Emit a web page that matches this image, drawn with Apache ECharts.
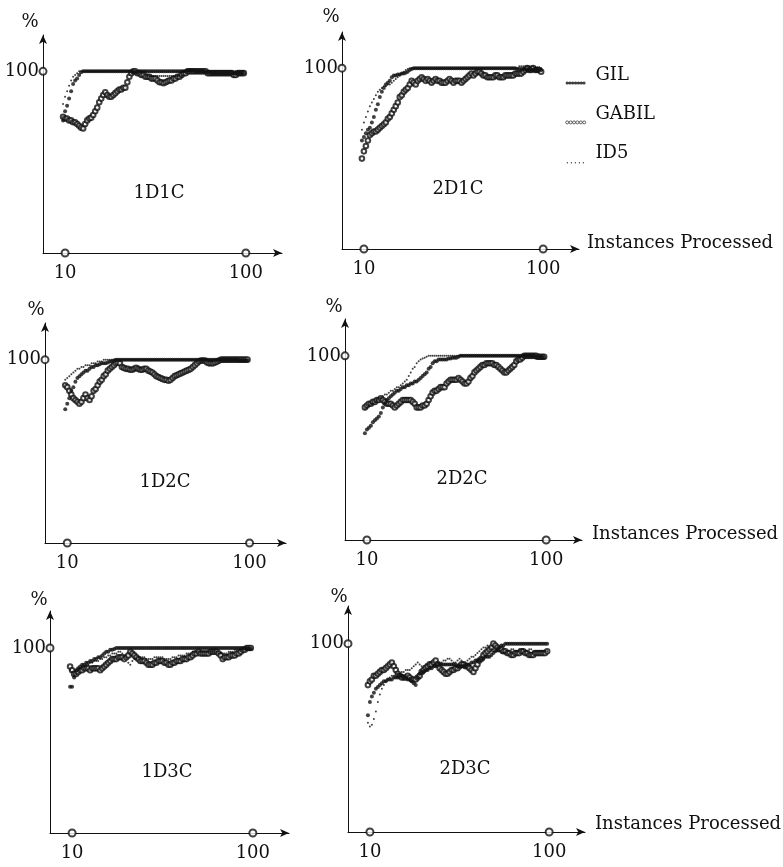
<!DOCTYPE html>
<html>
<head>
<meta charset="utf-8">
<script src="https://cdn.jsdelivr.net/npm/echarts@6/dist/echarts.min.js"></script>
<style>
  html, body { margin: 0; padding: 0; background: #fff; }
  #canvas { width: 783px; height: 867px; }
</style>
</head>
<body>
<div id="canvas"></div>
<script>
// instances processed (x values), one reading per instance
const instances = [];
for (let n = 9; n <= 99; n++) instances.push(n);

const seriesNames = ['GIL', 'GABIL', 'ID5'];
const panelNames = ['1D1C', '2D1C', '1D2C', '2D2C', '1D3C', '2D3C'];
const xAxisTitle = 'Instances Processed';
const xTickValues = [10, 100];
const yTickValues = [100];
const xRange = [-1, 118];
const yRange = [0, 120];

// ---- 1D1C ----
const gil_1D1C = [73, 78, 81, 85, 89, 93, 95, 96, 98, 99.5,
  100, 100, 100, 100, 100, 100, 100, 100, 100, 100,
  100, 100, 100, 100, 100, 100, 100, 100, 100, 100,
  100, 100, 100, 100, 100, 99.5, 99.5, 99.5, 100, 100,
  100, 100, 100, 100, 100, 100, 100, 100, 100, 100,
  100, 100, 100, 100, 100, 100, 100, 100, 100, 100,
  100, 100, 100.5, 100.5, 100.5, 100.5, 100, 100, 100, 100,
  100, 99.5, 99.5, 99.5, 99, 99, 99, 99, 99, 99,
  99, 99, 99, 99, 99, 99, 99, 99, 99, 99,
  99];
const gabil_1D1C = [75, 74, 74, 73, 73, 72, 72, 71, 70, 69,
  68.5, 71, 73, 74, 74.5, 76, 78, 80, 83, 85,
  87, 88.5, 87, 86, 86, 87, 88, 89, 90, 90,
  91, 91, 94, 97, 99, 100, 100, 99, 99, 98,
  98, 97, 97, 97, 96, 96, 96, 95, 94, 94,
  93.5, 94, 94.5, 95, 95, 96, 96, 97, 97, 98,
  99, 99, 100, 100, 100, 100, 100, 100, 100, 100,
  100, 100, 99, 99, 99, 99, 99, 99, 99, 99,
  99, 99, 99, 99, 99, 98, 98, 99, 99, 99,
  99];
const id5_1D1C = [82, 86, 89, 92, 95, 97, 98, 99, 100, 100,
  100, 100, 100, 100, 100, 100, 100, 100, 100, 100,
  100, 100, 100, 100, 100, 100, 100, 100, 100, 100,
  100, 100, 100, 100, 100, 100, 100, 100, 100, 100,
  100, 100, 97.5, 97.5, 97.5, 97.5, 97.5, 97.5, 97.5, 97.5,
  97.5, 97.5, 97.5, 97.5, 97.5, 97.5, 97.5, 97.5, 97.5, 97.5,
  100, 100, 100, 100, 100, 100, 100, 100, 100, 100,
  100, 100, 100, 100, 100, 100, 100, 100, 100, 100,
  100, 100, 100, 100, 100, 100, 100, 100, 100, 100,
  100];

// ---- 2D1C ----
const gil_2D1C = [60, 62, 64, 66, 67, 70, 73, 77, 80, 84,
  87, 89, 91, 92, 93, 95, 96, 96, 96.5, 96.5,
  97, 97, 97.5, 98, 99, 99.5, 100, 100, 100, 100,
  100, 100, 100, 100, 100, 100, 100, 100, 100, 100,
  100, 100, 100, 100, 100, 100, 100, 100, 100, 100,
  100, 100, 100, 100, 100, 100, 100, 100, 100, 100,
  100, 100, 100, 100, 100, 100, 100, 100, 100, 100,
  100, 100, 100, 100, 100, 100, 100, 100, 99.5, 99.5,
  99.5, 99.5, 99.5, 99, 99, 99, 99, 99, 99, 99,
  99];
const gabil_2D1C = [50, 54, 57, 60, 63, 64, 65, 65, 66, 67,
  68, 69, 70, 72, 73, 75, 77, 79, 81, 84,
  85, 87, 88, 89, 91, 93, 92, 91, 93, 94,
  95, 94, 93, 94, 93, 92, 93, 94, 93, 93,
  92, 92, 92, 93, 94, 93, 92, 93, 93, 93,
  92, 93, 94, 95, 96, 97, 96, 97, 98, 98,
  97, 96, 96, 95, 95, 95, 95, 96, 96, 95,
  95, 95, 96, 96, 96, 96, 96, 97, 97, 97,
  97, 98, 99, 100, 99, 99, 100, 99, 99, 99,
  98];
const id5_2D1C = [66, 70, 73, 76, 79, 81, 83, 85, 87, 88,
  89, 90, 90, 91, 91, 92, 93, 94, 95, 96,
  97, 98, 99, 99.5, 100, 100, 100, 100, 100, 100,
  100, 100, 100, 100, 100, 100, 100, 100, 100, 100,
  100, 100, 100, 100, 100, 100, 100, 100, 100, 100,
  100, 100, 100, 100, 100, 100, 100, 100, 100, 100,
  100, 100, 100, 100, 100, 100, 100, 100, 100, 100,
  100, 100, 100, 100, 100, 100, 100, 100, 100, 101,
  101, 101, 101, 101, 101, 101, 101, 100.5, 100.5, 100.5,
  100];

// ---- 1D2C ----
const gil_1D2C = [73, 76, 79, 83, 85, 88, 90, 91, 92, 93,
  94, 94, 95, 96, 96, 97, 97, 97.5, 98, 98,
  98, 98.5, 99, 99, 99.5, 100, 100, 100, 100, 100,
  100, 100, 100, 100, 100, 100, 100, 100, 100, 100,
  100, 100, 100, 100, 100, 100, 100, 100, 100, 100,
  100, 100, 100, 100, 100, 100, 100, 100, 100, 100,
  100, 100, 100, 100, 100, 100, 100, 100, 100, 100,
  100, 100, 100, 100, 100, 100, 100, 100, 100, 100,
  100, 100, 100, 100, 100, 100, 99.5, 99.5, 99.5, 99.5,
  99.5];
const gabil_1D2C = [86, 85, 83, 81, 79, 78, 77, 76, 77, 79,
  81, 79, 78, 80, 83, 84, 86, 88, 89, 91,
  92, 94, 95, 96, 97, 98, 98.5, 98, 96, 95.5,
  95, 95, 94.5, 94.5, 95, 95.5, 95, 94.5, 94.5, 95,
  95, 94, 93.5, 93, 92, 91, 90.5, 90, 89.5, 89,
  89, 88.5, 89, 90, 91, 91.5, 92, 92.5, 93, 93.5,
  94, 94.5, 95, 96, 97, 98, 99, 99.5, 99.5, 99.5,
  98.5, 98, 98, 98, 98.5, 99, 99.5, 100, 100, 100,
  100, 100, 100, 100, 100, 100, 100, 100, 100, 100,
  100];
const id5_1D2C = [89, 90, 91, 92, 93, 94, 95, 95, 96, 96,
  97, 97, 97, 98, 98, 98, 99, 99, 99, 100,
  100, 100, 100, 100, 100, 100, 100, 100, 100, 100,
  100, 100, 100, 100, 100, 100, 100, 100, 100, 100,
  100, 100, 100, 100, 100, 100, 100, 100, 100, 100,
  100, 100, 100, 100, 100, 100, 100, 100, 100, 100,
  100, 100, 100, 100, 100, 100, 100, 100, 100, 100,
  100, 100, 100, 100, 100, 100, 100, 100, 100, 100,
  100, 100, 100, 100, 100, 100, 100, 100, 100, 100,
  100];

// ---- 2D2C ----
const gil_2D2C = [58, 60, 61, 62, 64, 65, 66, 67, 69, 72,
  74, 76, 77, 78, 79, 80, 81, 81, 82, 83,
  83, 84, 84, 85, 85, 86, 86, 87, 88, 89,
  90, 91, 93, 94, 96, 97, 97, 98, 98, 98,
  98, 98, 98.5, 98.5, 99, 99, 99, 99.5, 100, 100,
  100, 100, 100, 100, 100, 100, 100, 100, 100, 100,
  100, 100, 100, 100, 100, 100, 100, 100, 100, 100,
  100, 100, 100, 100, 100, 100, 100, 100, 100, 100,
  100, 100, 100, 100, 100, 100, 99, 99, 99, 99,
  99];
const gabil_2D2C = [72, 73, 74, 74, 75, 75, 76, 76, 77, 76,
  75, 74, 74, 74, 73, 72, 73, 74, 75, 76,
  76, 76, 76, 76, 75, 74, 72, 72, 72, 73,
  73, 74, 76, 78, 80, 81, 81, 82, 83, 83,
  83, 85, 86, 87, 87, 87, 87, 88, 87, 86,
  85, 85, 86, 88, 89, 91, 92, 93, 94, 95,
  95, 96, 96, 96, 96, 95, 95, 94, 93, 92,
  91, 91, 92, 93, 94, 95, 97, 98, 98, 99,
  100, 100, 100, 100, 100, 100, 100, 99.5, 99.5, 99.5,
  99.5];
const id5_2D2C = [71, 72, 73, 74, 74, 75, 76, 77, 77, 78,
  79, 79, 80, 81, 81, 82, 83, 83, 84, 85,
  86, 87, 89, 91, 93, 94, 96, 97, 98, 98.5,
  99, 99.5, 100, 100, 100, 100, 100, 100, 100, 100,
  100, 100, 100, 100, 100, 100, 100, 100, 100, 100,
  100, 100, 100, 100, 100, 100, 100, 100, 100, 100,
  100, 100, 100, 100, 100, 100, 100, 100, 100, 100,
  100, 100, 100, 100, 100, 100, 100, 100, 100, 100,
  100, 100, 100, 100, 100, 100, 100, 100, 100, 100,
  100];

// ---- 1D3C ----
const gil_1D3C = [79, 79, 84, 88, 89, 90, 91, 91, 92, 92,
  93, 93, 94, 94, 95, 95, 96, 97, 98, 98,
  99, 99, 99.5, 100, 100, 100, 100, 100, 100, 100,
  100, 100, 100, 100, 100, 100, 100, 100, 100, 100,
  100, 100, 100, 100, 100, 100, 100, 100, 100, 100,
  100, 100, 100, 100, 100, 100, 100, 100, 100, 100,
  100, 100, 100, 100, 100, 100, 100, 100, 100, 100,
  100, 100, 100, 100, 100, 100, 100, 100, 100, 100,
  100, 100, 100, 100, 100, 100, 100, 100, 99.5, 99.5,
  99.5];
const gabil_1D3C = [90, 88, 86, 86, 87, 88, 88, 89, 89, 89,
  88, 89, 89, 89, 89, 88, 89, 90, 91, 92,
  93, 94, 94, 94, 95, 95, 95, 94, 95, 96,
  98, 97, 96, 95, 94, 93, 93, 93, 92, 91,
  91, 91, 92, 92, 93, 93, 93, 92, 92, 91,
  91, 92, 92, 93, 93, 93, 94, 94, 94, 95,
  95, 96, 97, 97, 98, 97, 97, 97, 97, 97,
  98, 98, 98, 98, 97, 96, 94, 95, 95, 95,
  96, 96, 96, 97, 97, 98, 99, 99, 100, 100,
  100];
const id5_1D3C = [88, 87, 85, 86, 88, 89, 90, 90, 91, 91,
  92, 92, 93, 93, 93, 94, 94, 95, 95, 96,
  96, 97, 97, 97, 98, 98, 97, 96, 95, 92,
  91, 93, 94, 94, 95, 95, 95, 95, 94, 94,
  94, 94, 95, 95, 95, 95, 95, 94, 94, 94,
  94, 95, 95, 95, 96, 96, 96, 96, 97, 97,
  97, 98, 98, 98, 98, 98, 98, 98, 98, 98,
  98, 98, 98, 98, 97, 97, 97, 97, 97, 98,
  98, 98, 99, 99, 99, 99, 99, 100, 100, 100,
  100];

// ---- 2D3C ----
const gil_2D3C = [62, 69, 72, 74, 76, 77, 78, 79, 80, 80,
  81, 81, 81, 82, 82, 82, 83, 83, 82, 82,
  81, 81, 80, 79, 78, 82, 84, 85, 85, 86,
  86, 87, 87, 88, 88, 89, 89, 89, 89, 89,
  89, 89, 89, 89, 89, 88, 88, 88, 88, 88,
  89, 89, 90, 90, 91, 91, 91, 92, 92, 93,
  93, 93, 94, 95, 96, 97, 98, 99, 99, 100,
  100, 100, 100, 100, 100, 100, 100, 100, 100, 100,
  100, 100, 100, 100, 100, 100, 100, 100, 100, 100,
  100];
const gabil_2D3C = [78, 80, 81, 83, 83, 84, 85, 86, 86, 87,
  88, 89, 90, 88, 86, 84, 83, 82, 82, 82,
  83, 82, 81, 81, 81, 82, 83, 85, 86, 87,
  88, 89, 89, 90, 91, 89, 87, 86, 85, 84,
  84, 85, 86, 86, 87, 87, 88, 89, 89, 88,
  88, 87, 86, 85, 87, 89, 91, 92, 94, 95,
  96, 97, 98, 100, 99, 98, 97, 97, 96, 96,
  95, 95, 94, 94, 95, 95, 95, 96, 96, 95,
  95, 94, 94, 94, 95, 95, 95, 95, 95, 95,
  96];
const id5_2D3C = [58, 56, 57, 60, 64, 69, 73, 76, 78, 80,
  81, 82, 83, 83, 84, 84, 84, 85, 85, 86,
  86, 86, 87, 88, 89, 90, 89, 88, 88, 89,
  89, 90, 90, 89, 89, 90, 90, 90, 91, 91,
  92, 92, 91, 90, 90, 91, 92, 91, 90, 90,
  91, 92, 93, 93, 94, 95, 96, 97, 98, 98,
  99, 98, 97, 96, 96, 96, 96, 95, 95, 95,
  96, 96, 97, 97, 96, 96, 97, 97, 97, 96,
  96, 97, 97, 96, 96, 96, 96, 96, 96, 96,
  96];

const panelData = [
  [gil_1D1C, gabil_1D1C, id5_1D1C],
  [gil_2D1C, gabil_2D1C, id5_2D1C],
  [gil_1D2C, gabil_1D2C, id5_1D2C],
  [gil_2D2C, gabil_2D2C, id5_2D2C],
  [gil_1D3C, gabil_1D3C, id5_1D3C],
  [gil_2D3C, gabil_2D3C, id5_2D3C]
];

// layout of the six small plots (pixels)
const FONT = 'DejaVu Serif';
const INK = '#111';
const layout = [
  { left: 43, top: 35, width: 239, height: 218, label: [159, 193], pct: [30, 22], xName: null },
  { left: 342, top: 32, width: 237, height: 217, label: [458, 189], pct: [331, 17], xName: [587, 243] },
  { left: 45, top: 323, width: 241, height: 220, label: [165, 482], pct: [36, 310], xName: null },
  { left: 345, top: 319, width: 237, height: 221, label: [462, 479], pct: [334, 307], xName: [592, 534] },
  { left: 50, top: 611, width: 239, height: 222, label: [167, 772], pct: [39, 600], xName: null },
  { left: 348, top: 606, width: 237, height: 226, label: [465, 769], pct: [339, 597], xName: [595, 824] }
];

function dots(r, step, count, cy, x0) {
  let p = 'path://M0,0M25,24';
  for (let i = 0; i < count; i++) {
    const cx = x0 + i * step;
    p += `M${cx - r},${cy}a${r},${r} 0 1,0 ${2 * r},0a${r},${r} 0 1,0 ${-2 * r},0`;
  }
  return p;
}

function drawPanels(canvas = 'canvas') {
  const myChart = echarts.init(document.getElementById(canvas));
  const text = { fontFamily: FONT, fontSize: 18, color: INK, fontWeight: 'normal' };

  const option = {
    backgroundColor: '#fff',
    animation: false,
    textStyle: { fontFamily: FONT, color: INK },
    grid: [], xAxis: [], yAxis: [], series: [], title: [],
    legend: {
      orient: 'vertical',
      left: 560,
      top: 58,
      itemWidth: 25,
      itemHeight: 24,
      itemGap: 15,
      selectedMode: false,
      textStyle: text,
      data: [
        { name: 'GIL', icon: dots(1.6, 2.8, 7, 20, 1.8), itemStyle: { color: INK, borderWidth: 0 } },
        { name: 'GABIL', icon: dots(1.5, 3.4, 6, 20, 1.8), itemStyle: { color: '#fff', borderColor: INK, borderWidth: 0.8 } },
        { name: 'ID5', icon: dots(0.7, 4, 5, 21, 2), itemStyle: { color: INK, borderWidth: 0 } }
      ]
    }
  };

  layout.forEach((p, i) => {
    option.grid.push({ left: p.left, top: p.top, width: p.width, height: p.height });
    const axisLine = { onZero: false, symbol: ['none', 'arrow'], symbolSize: [6, 9], lineStyle: { color: INK, width: 1 } };
    option.xAxis.push({
      gridIndex: i, type: 'value', min: xRange[0], max: xRange[1],
      axisLine, axisTick: { show: false }, splitLine: { show: false },
      axisLabel: { customValues: xTickValues, margin: 11, ...text }
    });
    option.yAxis.push({
      gridIndex: i, type: 'value', min: yRange[0], max: yRange[1],
      axisLine, axisTick: { show: false }, splitLine: { show: false },
      axisLabel: { customValues: yTickValues, margin: 4, ...text }
    });
    option.title.push({
      text: panelNames[i], left: p.label[0], top: p.label[1], padding: 0,
      textAlign: 'center', textVerticalAlign: 'middle', textStyle: text
    });
    option.title.push({
      text: '%', left: p.pct[0], top: p.pct[1], padding: 0,
      textAlign: 'center', textVerticalAlign: 'middle', textStyle: text
    });
    if (p.xName) {
      option.title.push({
        text: xAxisTitle, left: p.xName[0], top: p.xName[1], padding: 0,
        textAlign: 'left', textVerticalAlign: 'middle', textStyle: text
      });
    }

    const [gil, gabil, id5] = panelData[i];
    const pts = (vals) => instances.map((n, k) => [n, vals[k]]);
    option.series.push({
      name: 'GABIL', type: 'scatter', xAxisIndex: i, yAxisIndex: i, z: 2,
      symbol: 'emptyCircle', symbolSize: 4.6, silent: true,
      itemStyle: { color: INK, borderWidth: 0.7 }, data: pts(gabil)
    });
    option.series.push({
      name: 'ID5', type: 'scatter', xAxisIndex: i, yAxisIndex: i, z: 3,
      symbol: 'circle', symbolSize: 2, silent: true,
      itemStyle: { color: INK }, data: pts(id5)
    });
    option.series.push({
      name: 'GIL', type: 'scatter', xAxisIndex: i, yAxisIndex: i, z: 4,
      symbol: 'circle', symbolSize: 4, silent: true,
      itemStyle: { color: INK }, data: pts(gil)
    });
    // little open circles marking the labelled values on both axes
    option.series.push({
      name: 'marks', type: 'scatter', xAxisIndex: i, yAxisIndex: i, z: 5,
      symbol: 'emptyCircle', symbolSize: 7, silent: true, clip: false,
      itemStyle: { color: INK, borderWidth: 1 },
      data: xTickValues.map(v => [v, yRange[0]]).concat(yTickValues.map(v => [xRange[0], v]))
    });
  });

  myChart.setOption(option);
}

drawPanels();
</script>
</body>
</html>
